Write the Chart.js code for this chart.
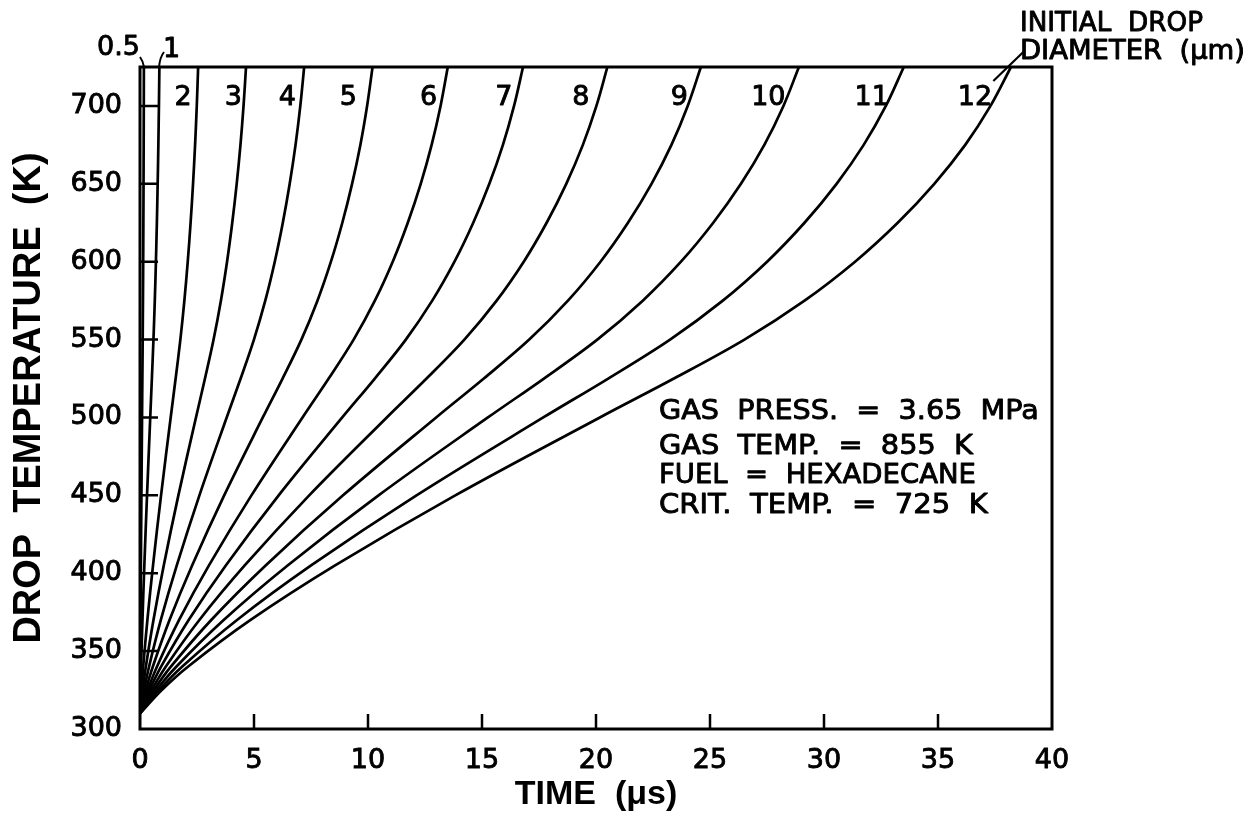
<!DOCTYPE html>
<html>
<head>
<meta charset="utf-8">
<script src="https://cdn.jsdelivr.net/npm/chart.js@4.4.1/dist/chart.umd.min.js"></script>
<style>
  html, body { margin: 0; padding: 0; background: #fff; }
  #wrap { width: 1256px; height: 823px; }
</style>
</head>
<body>
<div id="wrap"><canvas id="dropChart" width="1256" height="823"></canvas></div>
<script>
// initial drop diameters (um), one curve each
const diameters = ["0.5", "1", "2", "3", "4", "5", "6", "7", "8", "9", "10", "11", "12"];

// drop temperature (K) at which each time below was read
const tempK = [310, 325, 340, 370, 405, 450, 500, 525, 550, 575, 600, 625, 650, 675, 700, 725];

// time (us) for each diameter
const timeD05 = [0, 0.004, 0.009, 0.022, 0.038, 0.062, 0.09, 0.104, 0.118, 0.13, 0.14, 0.148, 0.155, 0.161, 0.166, 0.17];
const timeD1  = [0, 0.021, 0.047, 0.108, 0.19, 0.308, 0.449, 0.521, 0.59, 0.649, 0.698, 0.74, 0.775, 0.805, 0.83, 0.85];
const timeD2  = [0, 0.064, 0.14, 0.324, 0.571, 0.923, 1.346, 1.563, 1.77, 1.946, 2.094, 2.219, 2.326, 2.416, 2.49, 2.55];
const timeD3  = [0, 0.116, 0.256, 0.591, 1.042, 1.683, 2.455, 2.85, 3.227, 3.548, 3.818, 4.046, 4.241, 4.406, 4.541, 4.65];
const timeD4  = [0, 0.18, 0.396, 0.914, 1.613, 2.606, 3.802, 4.414, 4.997, 5.494, 5.911, 6.264, 6.566, 6.822, 7.031, 7.2];
const timeD5  = [0, 0.255, 0.561, 1.295, 2.285, 3.692, 5.386, 6.253, 7.079, 7.783, 8.374, 8.874, 9.302, 9.665, 9.96, 10.2];
const timeD6  = [0, 0.338, 0.743, 1.715, 3.024, 4.887, 7.128, 8.276, 9.369, 10.301, 11.084, 11.745, 12.312, 12.791, 13.183, 13.5];
const timeD7  = [0, 0.42, 0.924, 2.134, 3.763, 6.082, 8.87, 10.298, 11.659, 12.818, 13.793, 14.616, 15.322, 15.918, 16.405, 16.8];
const timeD8  = [0, 0.513, 1.128, 2.604, 4.592, 7.421, 10.824, 12.567, 14.227, 15.642, 16.831, 17.835, 18.696, 19.424, 20.018, 20.5];
const timeD9  = [0, 0.615, 1.353, 3.124, 5.51, 8.905, 12.989, 15.08, 17.072, 18.77, 20.197, 21.402, 22.435, 23.309, 24.022, 24.6];
const timeD10 = [0, 0.723, 1.59, 3.67, 6.474, 10.462, 15.259, 17.716, 20.057, 22.051, 23.727, 25.143, 26.357, 27.383, 28.221, 28.9];
const timeD11 = [0, 0.838, 1.843, 4.255, 7.504, 12.127, 17.688, 20.536, 23.249, 25.561, 27.504, 29.145, 30.552, 31.741, 32.713, 33.5];
const timeD12 = [0, 0.955, 2.101, 4.851, 8.557, 13.828, 20.17, 23.417, 26.511, 29.147, 31.362, 33.234, 34.838, 36.195, 37.302, 38.2];

// where the diameter numbers sit inside the frame (time, us)
const labelTimes = [null, null, 1.89, 4.09, 6.46, 9.14, 12.66, 15.96, 19.34, 23.65, 27.56, 32.09, 36.62];

const xTicks = [0, 5, 10, 15, 20, 25, 30, 35, 40];
const yTicks = [300, 350, 400, 450, 500, 550, 600, 650, 700];

const infoLines = [
  "GAS  PRESS.  =  3.65  MPa",
  "GAS  TEMP.  =  855  K",
  "FUEL  =  HEXADECANE",
  "CRIT.  TEMP.  =  725  K"
];

const series = [timeD05, timeD1, timeD2, timeD3, timeD4, timeD5, timeD6,
                timeD7, timeD8, timeD9, timeD10, timeD11, timeD12];

const TEXT_FONT = "27px 'DejaVu Sans', sans-serif";
Chart.defaults.font.family = "'DejaVu Sans', sans-serif";
Chart.defaults.color = "#000";

const datasets = series.map((times, i) => ({
  label: diameters[i],
  data: times.map((t, j) => ({ x: t, y: tempK[j] })),
  borderColor: "#000",
  borderWidth: 2.7,
  pointRadius: 0,
  fill: false,
  tension: 0.35
}));

// squeeze/stretch a line of text to the width it has in the scan
function fitText(ctx, text, x, y, width) {
  const w = ctx.measureText(text).width;
  ctx.save();
  ctx.translate(x, y);
  ctx.scale(width / w, 1);
  ctx.strokeText(text, 0, 0);
  ctx.fillText(text, 0, 0);
  ctx.restore();
}

function boldText(ctx, text, x, y) {
  ctx.strokeText(text, x, y);
  ctx.fillText(text, x, y);
}

// frame, inward ticks and the text inside/around the plot
const framePlugin = {
  id: "frame",
  afterDraw(chart) {
    const { ctx, chartArea: a, scales: { x, y } } = chart;
    ctx.save();
    ctx.strokeStyle = "#000";
    ctx.lineWidth = 3;
    ctx.strokeRect(a.left, a.top, a.right - a.left, a.bottom - a.top);

    ctx.lineWidth = 2.5;
    ctx.beginPath();
    xTicks.slice(1, -1).forEach(v => {
      const px = x.getPixelForValue(v);
      ctx.moveTo(px, a.bottom);
      ctx.lineTo(px, a.bottom - 15);
    });
    yTicks.slice(1).forEach(v => {
      const py = y.getPixelForValue(v);
      ctx.moveTo(a.left, py);
      ctx.lineTo(a.left + 18, py);
    });
    ctx.stroke();

    ctx.fillStyle = "#000";
    ctx.lineWidth = 0.9;
    ctx.lineJoin = "round";
    ctx.font = TEXT_FONT;
    ctx.textAlign = "center";
    ctx.textBaseline = "middle";
    const labelY = y.getPixelForValue(705);
    labelTimes.forEach((t, i) => {
      if (t === null) return;
      boldText(ctx, diameters[i], x.getPixelForValue(t), labelY);
    });

    // the two smallest drops are labelled above the frame
    const x0 = x.getPixelForValue(0);
    ctx.textAlign = "right";
    boldText(ctx, diameters[0], x0, a.top - 19);
    ctx.textAlign = "left";
    boldText(ctx, diameters[1], x0 + 23, a.top - 17);
    ctx.lineWidth = 2;
    ctx.beginPath();
    ctx.moveTo(x0, a.top - 10);
    ctx.quadraticCurveTo(x0 + 3, a.top - 6, x0 + 4, a.top);
    ctx.moveTo(x0 + 19, a.top);
    ctx.quadraticCurveTo(x0 + 20, a.top - 10, x0 + 24, a.top - 15);
    ctx.stroke();

    // legend title with its leader
    const x12 = x.getPixelForValue(36.9);
    ctx.lineWidth = 2.2;
    ctx.beginPath();
    ctx.moveTo(x12 + 12, a.top + 14);
    ctx.lineTo(x12 + 42, a.top - 15);
    ctx.stroke();
    ctx.lineWidth = 0.9;
    ctx.font = "26px 'DejaVu Sans', sans-serif";
    ctx.textAlign = "left";
    fitText(ctx, "INITIAL  DROP", a.right - 32, 24, 183);
    fitText(ctx, "DIAMETER  (\u03bcm)", a.right - 32, 52, 225);

    // run conditions
    ctx.font = TEXT_FONT;
    const infoX = x.getPixelForValue(22.76);
    const infoY = [412, 447, 476, 506];
    const infoW = [380, 314, 317, 329];
    infoLines.forEach((s, i) => fitText(ctx, s, infoX, infoY[i], infoW[i]));
    ctx.restore();
  }
};

new Chart(document.getElementById("dropChart"), {
  type: "line",
  data: { datasets },
  options: {
    responsive: false,
    animation: false,
    layout: { padding: { top: 67, right: 204, left: 0, bottom: 0 } },
    plugins: { legend: { display: false }, tooltip: { enabled: false } },
    scales: {
      x: {
        type: "linear",
        min: 0,
        max: 40,
        afterBuildTicks: s => { s.ticks = xTicks.map(v => ({ value: v })); },
        afterFit: s => { s.height = 94; },
        grid: { display: false, drawTicks: false },
        border: { display: false },
        ticks: { font: { size: 27 }, padding: 16, maxRotation: 0, textStrokeColor: "#000", textStrokeWidth: 0.9 },
        title: {
          display: true,
          text: "TIME  (\u03bcs)",
          font: { family: "'Liberation Sans', Arial, sans-serif", size: 34, weight: "bold" },
          padding: { top: 0, bottom: 8 }
        }
      },
      y: {
        type: "linear",
        min: 300,
        max: 725,
        afterBuildTicks: s => { s.ticks = yTicks.map(v => ({ value: v })); },
        afterFit: s => { s.width = 140; },
        grid: { display: false, drawTicks: false },
        border: { display: false },
        ticks: { font: { size: 27 }, padding: 18, textStrokeColor: "#000", textStrokeWidth: 0.9 },
        title: {
          display: true,
          text: "DROP  TEMPERATURE  (K)",
          font: { family: "'Liberation Sans', Arial, sans-serif", size: 38, weight: "bold" },
          padding: { top: 7, bottom: 0 }
        }
      }
    }
  },
  plugins: [framePlugin]
});
</script>
</body>
</html>
